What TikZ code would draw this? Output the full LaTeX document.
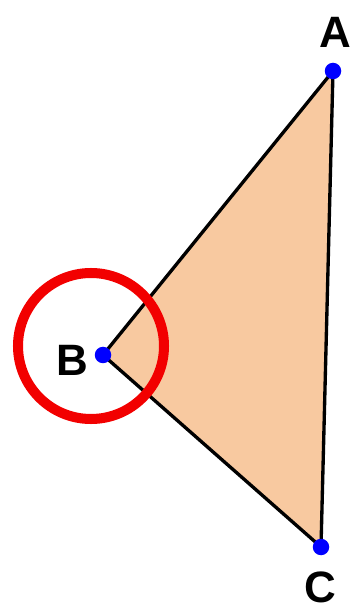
\documentclass[tikz,border=0pt]{standalone}
\usepackage{fontspec}
\setmainfont{Liberation Sans}
\usepackage{tikz}
\usetikzlibrary{positioning}
\definecolor{trifill}{HTML}{F8C9A0}
\definecolor{ptblue}{HTML}{0000FF}
\definecolor{ringred}{HTML}{F20000}
\tikzset{
  tribox/.style={draw=black, fill=trifill, line width=1.9pt, line join=round},
  ptdot/.style={circle, fill=ptblue, inner sep=0pt, minimum size=0.33cm},
  ptlabel/.style={font=\fontsize{25}{30}\selectfont\bfseries, inner sep=0pt},
  ringmark/.style={draw=ringred, line width=5.7pt}
}
\begin{document}
\begin{tikzpicture}
  \useasboundingbox (0,0) rectangle (7.1,12.2);
  \coordinate (A) at (6.66,10.78);
  \coordinate (B) at (2.06,5.10);
  \coordinate (C) at (6.42,1.26);

  \draw[tribox] (A) -- (B) -- (C) -- cycle;

  \node[ptdot] (dotA) at (A) {};
  \node[ptdot] (dotB) at (B) {};
  \node[ptdot] (dotC) at (C) {};

  \node[ptlabel] (labA) at (6.70,11.56) {A};
  \node[ptlabel] (labB) at (1.44,5.00) {B};
  \node[ptlabel] (labC) at (6.40,0.46) {C};

  \draw[ringmark] (1.82,5.28) circle (1.46);
\end{tikzpicture}
\end{document}
